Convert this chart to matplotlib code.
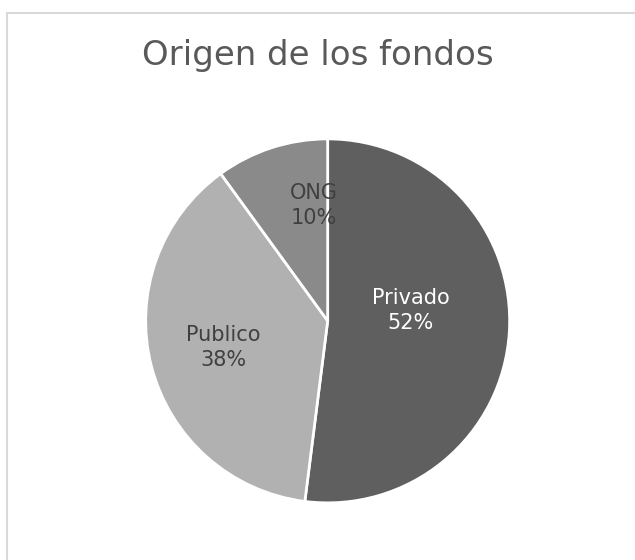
import numpy as np
import matplotlib
matplotlib.use("Agg")
import matplotlib.pyplot as plt
from matplotlib.patches import Rectangle

# data
labels = ["Privado", "Publico", "ONG"]
values = [52, 38, 10]
colors = ["#5f5f5f", "#b1b1b1", "#8a8a8a"]
text_colors = ["white", "#404040", "#404040"]
# label placement: distance from centre and angle tweak (deg) from mid-wedge
label_dist = [0.46, 0.59, 0.64]
label_shift = [10.5, 0, -11]

plt.rcParams['font.family'] = ['DejaVu Sans']

fig = plt.figure(figsize=(6.35, 5.6), dpi=100)
fig.patches.append(Rectangle((7/635, -0.1), 1.2, 1 - 13/560 + 0.1, transform=fig.transFigure,
                             fill=False, edgecolor="#d9d9d9", lw=1.5))

ax = fig.add_axes([0.516 - 0.2866, 0.427 - 0.325, 0.5732, 0.65])
wedges, _ = ax.pie(values, colors=colors, startangle=90, counterclock=False,
                   wedgeprops=dict(edgecolor="white", linewidth=2))
ax.set_xlim(-1, 1)
ax.set_ylim(-1, 1)
ax.set_aspect("equal")

for w, lab, v, tc, d, s in zip(wedges, labels, values, text_colors, label_dist, label_shift):
    ang = np.deg2rad((w.theta1 + w.theta2) / 2 + s)
    x, y = d * np.cos(ang), d * np.sin(ang)
    ax.text(x, y, f"{lab}\n{v}%", ha="center", va="center", color=tc,
            fontsize=15, linespacing=1.3)

fig.text(0.5, 1 - 55/560, "Origen de los fondos", ha="center", va="center",
         color="#595959", fontsize=24.5)

fig.savefig("out.png", dpi=100)
